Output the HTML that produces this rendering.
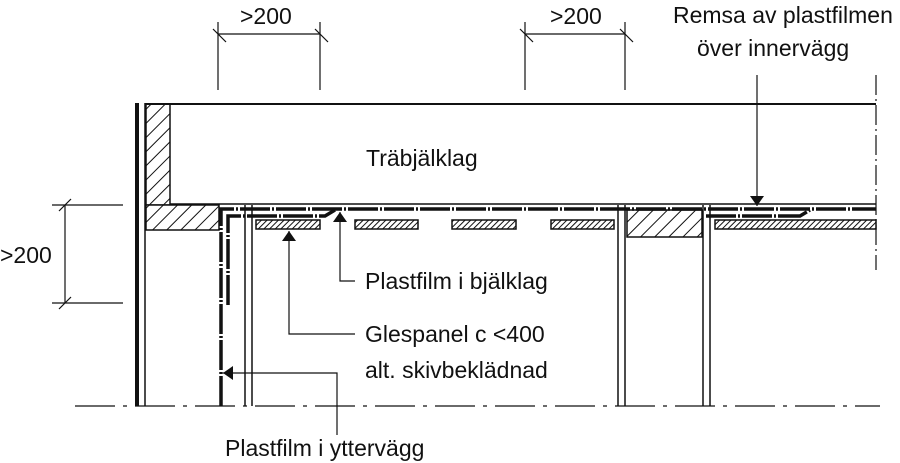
<!DOCTYPE html>
<html><head><meta charset="utf-8"><style>
html,body{margin:0;padding:0;background:#fff;}
svg{display:block;}
text{font-family:"Liberation Sans","DejaVu Sans",sans-serif;font-size:23px;fill:#111;}
</style></head><body>
<svg width="900" height="463" viewBox="0 0 900 463">
<defs>
<pattern id="h1" width="10" height="10" patternUnits="userSpaceOnUse" patternTransform="rotate(45)"><rect width="10" height="10" fill="#fff"/><line x1="0" y1="0" x2="0" y2="10" stroke="#111" stroke-width="2"/></pattern>
<pattern id="h2" width="4" height="4" patternUnits="userSpaceOnUse" patternTransform="rotate(45)"><rect width="4" height="4" fill="#fff"/><line x1="0" y1="0" x2="0" y2="4" stroke="#111" stroke-width="2"/></pattern>
<marker id="ar" markerWidth="10" markerHeight="14" refX="10" refY="7" orient="auto" markerUnits="userSpaceOnUse"><path d="M0,0 L10,7 L0,14 z" fill="#111"/></marker>
</defs>
<g stroke="#111" fill="none">
<line x1="137" y1="103" x2="137" y2="406" stroke-width="4"/>
<line x1="145" y1="103" x2="145" y2="406" stroke-width="1.5"/>
<rect x="146" y="104" width="24" height="101" fill="url(#h1)" stroke-width="1.5"/>
<line x1="145" y1="104" x2="876" y2="104" stroke-width="2"/>
<line x1="170" y1="204" x2="876" y2="204" stroke-width="1.5"/>
<line x1="876" y1="75" x2="876" y2="270" stroke-width="1.2" stroke-dasharray="20,4,2,4"/>
<rect x="146" y="205" width="73" height="25" fill="url(#h1)" stroke-width="1.5"/>
<line x1="245" y1="205" x2="245" y2="406" stroke-width="1.5"/>
<line x1="252" y1="205" x2="252" y2="406" stroke-width="1.5"/>
<line x1="618" y1="205" x2="618" y2="406" stroke-width="1.5"/>
<line x1="625" y1="205" x2="625" y2="406" stroke-width="1.5"/>
<line x1="703" y1="205" x2="703" y2="406" stroke-width="1.5"/>
<line x1="710" y1="205" x2="710" y2="406" stroke-width="1.5"/>
<rect x="627" y="210" width="75" height="27" fill="url(#h1)" stroke-width="1.5"/>
<path d="M221,406 V209 H876" stroke-width="3.5" stroke-dasharray="30,2,2,2"/>
<path d="M228,305 V216 H325 L335,210" stroke-width="3.5" stroke-dasharray="30,2,2,2"/>
<path d="M706,216 H800 L810,210" stroke-width="3.5" stroke-dasharray="30,2,2,2"/>
<g fill="url(#h2)" stroke-width="1.5">
<rect x="256" y="220" width="64" height="9"/><rect x="355" y="220" width="63" height="9"/>
<rect x="452" y="220" width="64" height="9"/><rect x="551" y="220" width="63" height="9"/>
<rect x="715" y="220" width="161" height="9"/></g>
<line x1="75" y1="406" x2="880" y2="406" stroke-width="1.2" stroke-dasharray="40,8,4,8"/>
<g stroke-width="1.2">
<line x1="218" y1="22" x2="218" y2="90"/><line x1="320" y1="22" x2="320" y2="90"/>
<line x1="218" y1="34" x2="320" y2="34"/>
<line x1="213" y1="29" x2="226" y2="42"/><line x1="315" y1="29" x2="328" y2="42"/>
<line x1="525" y1="22" x2="525" y2="90"/><line x1="625" y1="22" x2="625" y2="90"/>
<line x1="525" y1="34" x2="625" y2="34"/>
<line x1="520" y1="29" x2="533" y2="42"/><line x1="620" y1="29" x2="633" y2="42"/>
<line x1="52" y1="205" x2="123" y2="205"/><line x1="52" y1="303" x2="123" y2="303"/>
<line x1="65" y1="205" x2="65" y2="303"/>
<line x1="59" y1="211" x2="71" y2="199"/><line x1="59" y1="309" x2="71" y2="297"/>
</g>
<g stroke-width="1.2">
<line x1="757" y1="75" x2="757" y2="206" marker-end="url(#ar)"/>
<path d="M355,281 H340 V212" marker-end="url(#ar)"/>
<path d="M355,334 H289 V231" marker-end="url(#ar)"/>
<path d="M337,435 V373 H223" marker-end="url(#ar)"/>
</g>
</g>
<text x="240" y="24">&gt;200</text>
<text x="550" y="24">&gt;200</text>
<text x="0" y="263">&gt;200</text>
<text x="673" y="23">Remsa av plastfilmen</text>
<text x="697" y="56">över innervägg</text>
<text x="366" y="166">Träbjälklag</text>
<text x="365" y="289">Plastfilm i bjälklag</text>
<text x="365" y="342">Glespanel c &lt;400</text>
<text x="365" y="378">alt. skivbeklädnad</text>
<text x="225" y="456">Plastfilm i yttervägg</text>
</svg>
</body></html>
